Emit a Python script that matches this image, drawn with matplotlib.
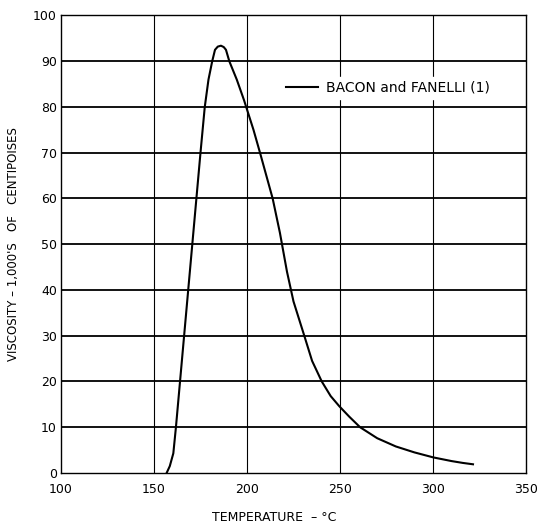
import numpy as np
import matplotlib.pyplot as plt

# viscosity curve (Bacon and Fanelli)
Temperature = [156.8, 158.5, 160.4, 161.8, 164.0, 166.2, 168.4, 170.6, 172.8, 175.0,
               177.3, 179.3, 181.3, 182.8, 184.3, 186.0, 187.5, 188.7, 190.5, 194.5,
               198.4, 203.5, 207.0, 213.8, 217.7, 221.5, 225.0, 230.8, 235.0, 240.2,
               245.0, 249.6, 255.0, 260.8, 270.0, 280.0, 290.0, 300.2, 310.0, 316.0,
               321.5]
Viscosity = [0.0, 1.5, 4.3, 10.0, 20.0, 30.0, 40.0, 50.0, 60.0, 70.0,
             80.0, 86.0, 90.0, 92.5, 93.2, 93.4, 93.1, 92.5, 90.0, 86.0,
             81.5, 75.0, 70.0, 60.0, 52.5, 44.0, 37.5, 30.0, 24.5, 20.0,
             16.8, 14.6, 12.3, 10.0, 7.6, 5.8, 4.5, 3.4, 2.6, 2.2,
             1.9]

X_Ticks = [100, 150, 200, 250, 300, 350]
Y_Ticks = [0, 10, 20, 30, 40, 50, 60, 70, 80, 90, 100]

fig = plt.figure(figsize=(5.42, 5.29), dpi=100)
ax = fig.add_axes([0.1125, 0.1059, 0.8580, 0.8648])

for y in Y_Ticks[1:-1]:
    ax.axhline(y, color="black", linewidth=1.3, zorder=1)
for x in X_Ticks[1:-1]:
    ax.axvline(x, color="black", linewidth=0.8, zorder=1)

ax.plot(Temperature, Viscosity, color="black", linewidth=1.5, zorder=3,
        label="BACON and FANELLI (1)")

ax.set_xlim(100, 350)
ax.set_ylim(0, 100)
ax.set_xticks(X_Ticks)
ax.set_yticks(Y_Ticks)
ax.tick_params(length=0, labelsize=9)
ax.tick_params(axis="x", pad=7)
ax.tick_params(axis="y", pad=3)
for s in ax.spines.values():
    s.set_linewidth(1.0)
    s.set_color("black")

ax.set_xlabel("TEMPERATURE  \u2013 \u00b0C", fontsize=9)
ax.xaxis.set_label_coords(0.459, -0.083)
ax.set_ylabel("VISCOSITY \u2013 1,000'S   OF   CENTIPOISES", fontsize=8.5)
ax.yaxis.set_label_coords(-0.088, 0.5)

leg = ax.legend(loc="center left", bbox_to_anchor=(0.475, 0.842), frameon=True,
                fontsize=10, handlelength=2.3, handletextpad=0.6,
                borderpad=0.3, borderaxespad=0)
leg.get_frame().set_facecolor("white")
leg.get_frame().set_edgecolor("white")
leg.get_frame().set_alpha(1.0)

plt.savefig("out.png", dpi=100)
